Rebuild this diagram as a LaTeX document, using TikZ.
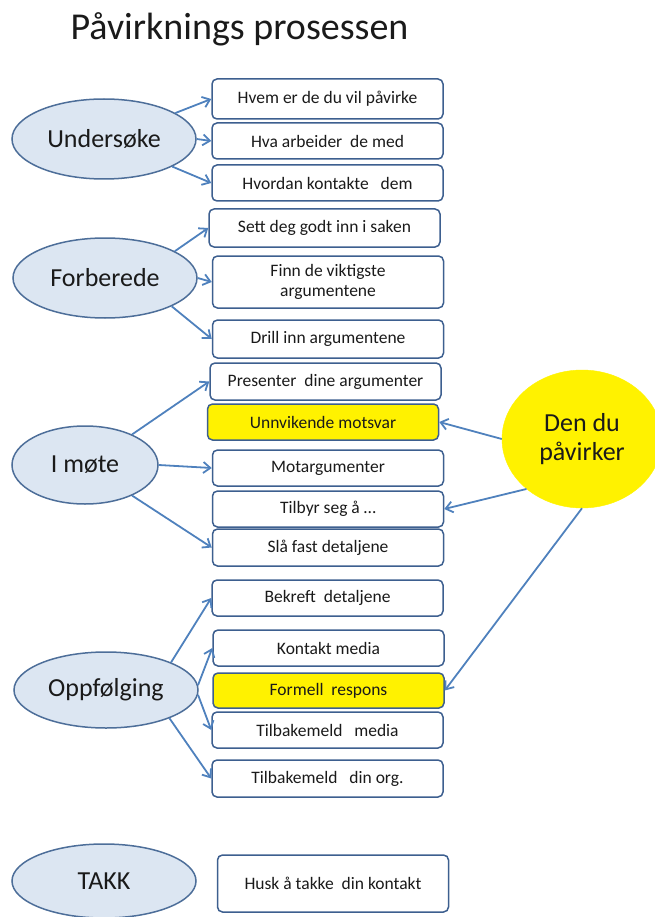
\documentclass[tikz,border=0pt]{standalone}
\usepackage{fontspec}
\setmainfont{Carlito}
\usetikzlibrary{arrows.meta,shapes.geometric}
\definecolor{linkblue}{HTML}{4F81BD}
\definecolor{boxedge}{HTML}{3D5F8F}
\definecolor{ovalfill}{HTML}{DCE6F2}
\definecolor{ovaledge}{HTML}{4D6E99}
\definecolor{ink}{HTML}{1A1A1A}
\tikzset{
  phase/.style={ellipse, draw=ovaledge, fill=ovalfill, line width=1.5pt,
    minimum width=184pt, minimum height=80pt, inner sep=0pt,
    font=\fontsize{26}{28}\selectfont, text=ink},
  task/.style={rectangle, rounded corners=5pt, draw=boxedge, fill=white,
    line width=1.5pt, minimum width=231pt, minimum height=37pt, inner sep=2pt,
    font=\fontsize{17.5}{20}\selectfont, text=ink, align=center},
  hot/.style={task, fill=yellow},
  link/.style={draw=linkblue, line width=1.8pt,
    -{Straight Barb[length=7pt,width=11pt]}},
}
\begin{document}
\begin{tikzpicture}[x=1pt,y=-1pt]
\useasboundingbox (0,0) rectangle (655,917);

% title
\node[font=\fontsize{38}{42}\selectfont, text=ink] (title) at (239.5,29) {Påvirknings prosessen};

% phases
\node[phase] (und) at (104,139) {Undersøke};
\node[phase] (forb) at (105,278) {Forberede};
\node[phase, minimum width=146pt, minimum height=78pt] (mote) at (85,465) {I møte};
\node[phase, minimum height=76pt] (oppf) at (106,690) {Oppfølging};
\node[phase, minimum height=74pt] (takk) at (104,881) {TAKK};

% tasks
\node[task, minimum height=40pt] (t1) at (327.5,99) {Hvem er de du vil påvirke};
\node[task, minimum height=36pt] (t2) at (327.5,141) {Hva arbeider~~de med};
\node[task, minimum height=36pt] (t3) at (327.5,183) {Hvordan kontakte~~~dem};

\node[task, minimum height=38pt] (t4) at (324.5,228) {Sett deg godt inn i saken};
\node[task, minimum height=52pt] (t5) at (328,282) {Finn de viktigste\\argumentene};
\node[task, minimum height=38pt] (t6) at (328,339) {Drill inn argumentene};

\node[task] (t7) at (325.5,381.5) {Presenter~~dine argumenter};
\node[hot, minimum height=36pt] (t8) at (323,422) {Unnvikende motsvar};
\node[task, minimum height=36pt] (t9) at (328,468) {Motargumenter};
\node[task, minimum height=36pt] (t10) at (328,509) {Tilbyr seg å …};
\node[task] (t11) at (328,547.5) {Slå fast detaljene};

\node[task, minimum height=36pt] (t12) at (327.5,598) {Bekreft~~detaljene};
\node[task, minimum height=36pt] (t13) at (328.5,648) {Kontakt media};
\node[hot, minimum height=35pt] (t14) at (328.5,690.5) {Formell~~respons};
\node[task, minimum height=36pt] (t15) at (327.5,730) {Tilbakemeld~~~media};
\node[task] (t16) at (327.5,778.5) {Tilbakemeld~~~din org.};

\node[task, minimum height=57pt] (t17) at (333,883.5) {Husk å takke~~din kontakt};

% the other party
\node[ellipse, fill=yellow, draw=yellow, minimum width=160pt, minimum height=138pt,
  inner sep=0pt, align=center, font=\fontsize{26}{29}\selectfont, text=ink]
  (den) at (582,439) {Den du\\påvirker};

% phase links
\draw[link] (und.20) -- (t1.west);
\draw[link] (und.0) -- (t2.west);
\draw[link] (und.-22) -- (t3.west);

\draw[link] (forb.21) -- (t4.west);
\draw[link] (forb.0) -- (t5.west);
\draw[link] (forb.-23) -- (t6.west);

\draw[link] (mote.33) -- (t7.west);
\draw[link] (mote.0) -- (t9.west);
\draw[link] (mote.-33) -- (t11.west);

\draw[link] (oppf.23) -- (t12.west);
\draw[link] (oppf.3) -- (t13.west);
\draw[link] (oppf.-3) -- (t15.west);
\draw[link] (oppf.-24) -- (t16.west);

% responses
\draw[link] (den.180) -- (t8.east);
\draw[link] (den.222) -- (t10.east);
\draw[link] (den.270) -- (t14.east);
\end{tikzpicture}
\end{document}
